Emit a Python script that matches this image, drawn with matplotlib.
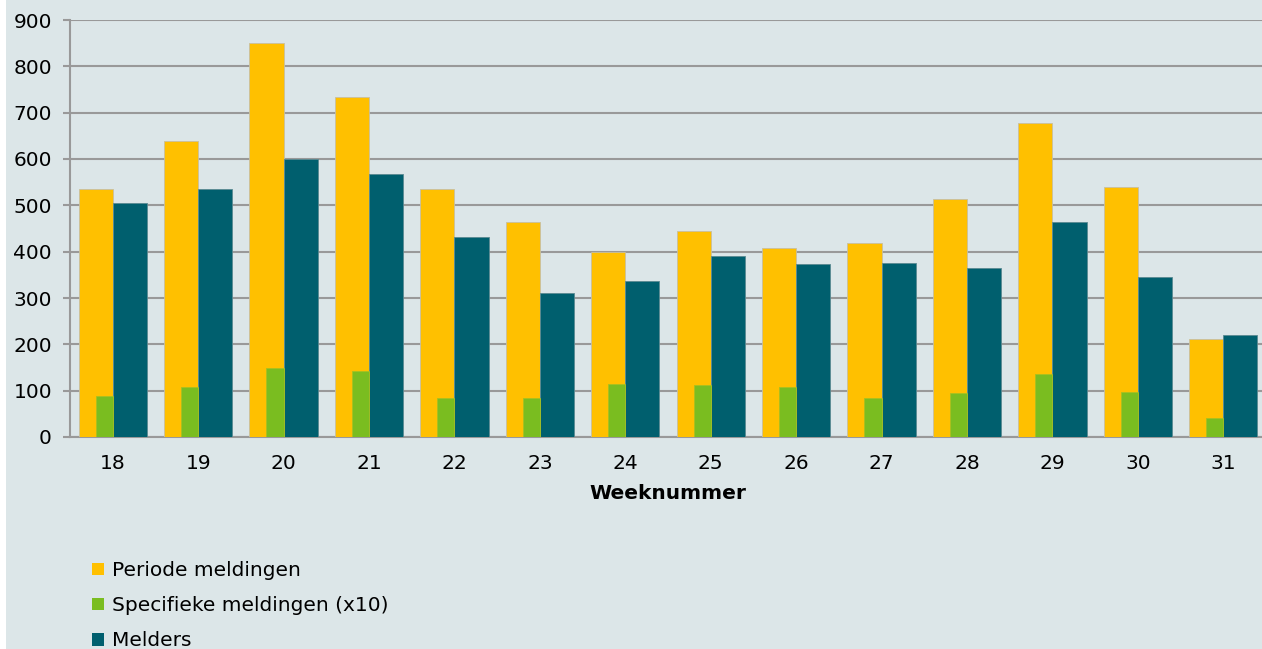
import matplotlib.pyplot as plt
import numpy as np
from matplotlib.patches import Rectangle

weeks = ['18', '19', '20', '21', '22', '23', '24', '25', '26', '27', '28', '29', '30', '31']
periode = [535, 638, 851, 734, 536, 463, 399, 445, 408, 419, 513, 678, 539, 212]
specifiek = [88, 107, 149, 142, 85, 85, 115, 113, 108, 84, 95, 136, 97, 40]
melders = [504, 536, 600, 567, 432, 311, 337, 391, 373, 376, 365, 463, 345, 220]

bg = '#dce6e8'
c_orange = '#ffc000'
c_green = '#7abd20'
c_teal = '#005f6e'
grid_c = '#999999'

fig = plt.figure(figsize=(12.62, 6.49), dpi=100, facecolor='white')
fig.patches.append(Rectangle((6 / 1262, 0), 2, 2, transform=fig.transFigure,
                             facecolor=bg, edgecolor='none', zorder=-10))

W, H = 1262, 649
ax = fig.add_axes([70 / W, (H - 437) / H, 1196 / W, (437 - 20) / H])
ax.set_facecolor(bg)

x = np.arange(len(weeks))
w = 0.4
ax.bar(x - w / 2, periode, width=w, color=c_orange, edgecolor='#c8c0a0', linewidth=0.6,
       label='Periode meldingen', zorder=3)
ax.bar(x - w / 4, specifiek, width=w / 2, color=c_green, edgecolor='#a8c020', linewidth=0.6,
       label='Specifieke meldingen (x10)', zorder=4)
ax.bar(x + w / 2, melders, width=w, color=c_teal, edgecolor='#5a8a92', linewidth=0.6,
       label='Melders', zorder=3)

ax.set_xlim(-0.5, len(weeks) - 0.5)
ax.set_ylim(0, 900)
ax.set_yticks(range(0, 901, 100))
ax.set_xticks(x)
ax.set_xticklabels(weeks)
ax.yaxis.grid(True, color=grid_c, linewidth=1.5, zorder=1)
ax.set_axisbelow(True)

for s in ['top', 'right']:
    ax.spines[s].set_visible(False)
for s in ['left', 'bottom']:
    ax.spines[s].set_color(grid_c)
    ax.spines[s].set_linewidth(1.5)

ax.tick_params(axis='y', length=5, width=1.5, color=grid_c, labelsize=14.5, pad=8)
ax.tick_params(axis='x', length=0, labelsize=14.5, pad=12)
ax.set_xlabel('Weeknummer', fontsize=14.5, fontweight='bold', labelpad=8)

handles, labels = ax.get_legend_handles_labels()
leg = fig.legend(handles, labels, loc='upper left', bbox_to_anchor=(92 / W, (H - 561) / H),
                 frameon=False, fontsize=14.5, handlelength=0.6, handleheight=0.6,
                 handletextpad=0.4, labelspacing=0.8, borderaxespad=0, borderpad=0)
for h in leg.legend_handles:
    h.set_edgecolor('none')

plt.savefig('out.png', dpi=100, facecolor=fig.get_facecolor())
